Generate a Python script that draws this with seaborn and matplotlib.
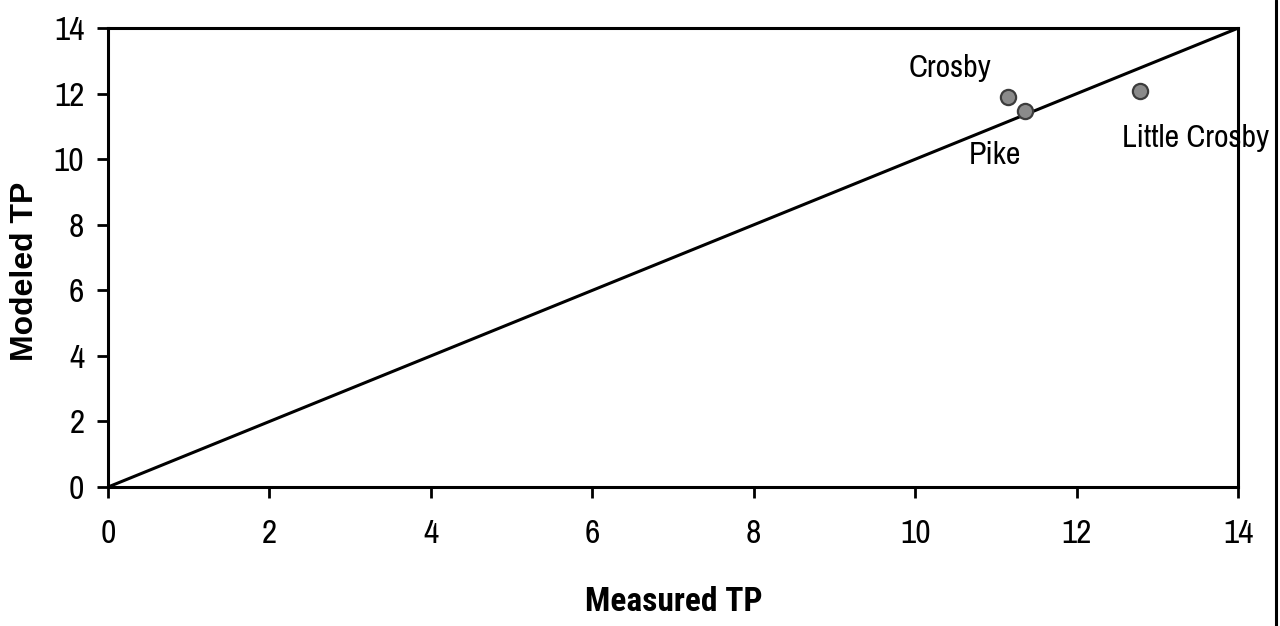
import matplotlib
matplotlib.use("Agg")
import matplotlib.pyplot as plt
import seaborn as sns
import pandas as pd
from matplotlib.lines import Line2D

# Data
sites = ["Crosby", "Pike", "Little Crosby"]
measured_tp = [11.15, 11.36, 12.79]
modeled_tp = [11.89, 11.46, 12.07]
label_x = [10.43, 10.99, 13.47]
label_y = [12.77, 10.12, 10.64]
line_x = [0, 14]
line_y = [0, 14]
ticks = [0, 2, 4, 6, 8, 10, 12, 14]

sns.set_style("white")
narrow = ["Archivo Narrow", "DejaVu Sans"]
narrow_bold = ["Roboto Condensed", "DejaVu Sans"]
plt.rcParams["font.family"] = narrow

fig = plt.figure(figsize=(12.8, 6.26), dpi=100)
ax = fig.add_axes([0.0844, 0.222, 0.8828, 0.733])

df = pd.DataFrame({"Measured TP": measured_tp, "Modeled TP": modeled_tp, "site": sites})
ax.plot(line_x, line_y, color="black", lw=2.2, zorder=2)
sns.scatterplot(data=df, x="Measured TP", y="Modeled TP", ax=ax, s=120,
                color="#8a8a8a", edgecolor="#3c3c3c", linewidth=1.6, zorder=3)

for name, lx, ly in zip(sites, label_x, label_y):
    ax.text(lx, ly, name, ha="center", va="center", fontsize=23,
            family=narrow, color="black", clip_on=False, zorder=4)

ax.set_xlim(0, 14)
ax.set_ylim(0, 14)
ax.set_xticks(ticks)
ax.set_yticks(ticks)
ax.tick_params(axis="both", direction="out", length=8, width=2, labelsize=24,
               labelcolor="black", color="black",
               left=True, bottom=True, top=False, right=False)
ax.tick_params(axis="x", pad=15)
ax.tick_params(axis="y", pad=9)
for lab in ax.get_xticklabels() + ax.get_yticklabels():
    lab.set_family(narrow)

for sp in ax.spines.values():
    sp.set_visible(True)
    sp.set_color("black")
    sp.set_linewidth(2.2)

ax.set_xlabel("Measured TP", fontsize=24, fontweight="bold", family=narrow_bold, color="black")
ax.xaxis.set_label_coords(0.501, -0.215)
ax.set_ylabel("Modeled TP", fontsize=23, fontweight="bold",
              family=["Liberation Sans", "DejaVu Sans"], color="black")
ax.yaxis.set_label_coords(-0.060, 0.47)

fig.add_artist(Line2D([0.9969, 0.9969], [0, 1], transform=fig.transFigure,
                      color="black", lw=2.2))

fig.savefig("out.png", dpi=100, facecolor="white")
